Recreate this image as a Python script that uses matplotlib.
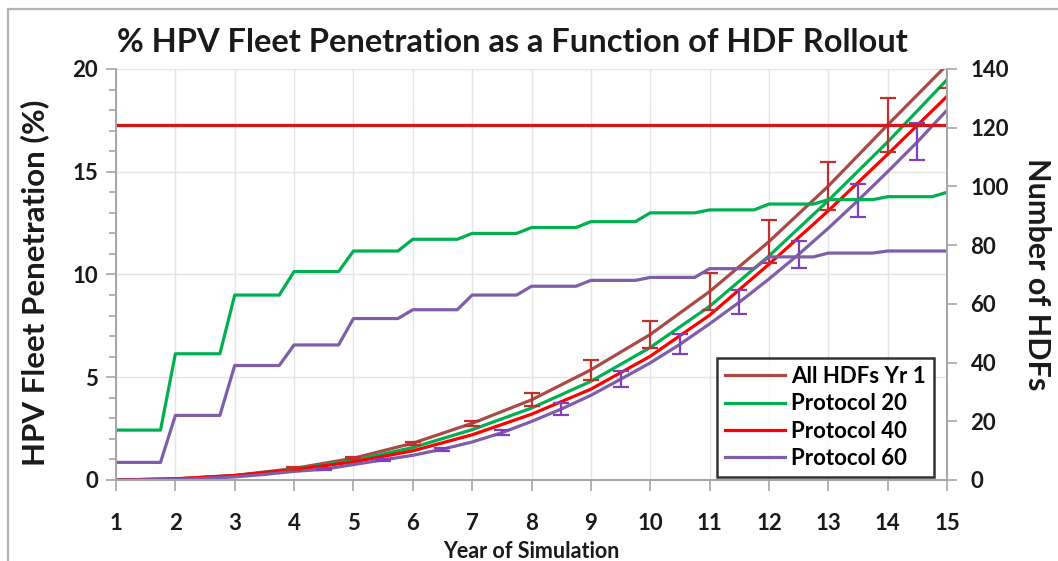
import numpy as np
import matplotlib
matplotlib.use("Agg")
import matplotlib.pyplot as plt
from matplotlib.lines import Line2D
from matplotlib.ticker import MultipleLocator

plt.rcParams['font.family'] = ['Lato', 'DejaVu Sans']
plt.rcParams['font.weight'] = 'bold'

# ---- data ----
years = np.arange(1, 16)
half_years = np.arange(1, 15.01, 0.5)

# HPV fleet penetration (%), left axis
pen_all_yr1 = [0, 0.05, 0.22, 0.56, 1.06, 1.79, 2.76, 3.9, 5.36, 7.08, 9.17, 11.6, 14.3, 17.28, 20.2]
pen_p20 = [0, 0.05, 0.2, 0.52, 0.95, 1.58, 2.45, 3.5, 4.8, 6.45, 8.45, 10.9, 13.6, 16.45, 19.48]
pen_p40 = [0, 0.06, 0.22, 0.5, 0.88, 1.42, 2.2, 3.2, 4.42, 6.02, 8.02, 10.5, 13.1, 15.85, 18.67]
# protocol 60 is reported every half year
pen_p60 = [0, 0.01, 0.03, 0.08, 0.15, 0.27, 0.42, 0.52, 0.75, 0.98, 1.2, 1.5, 1.85, 2.3,
           2.85, 3.45, 4.12, 4.9, 5.7, 6.6, 7.6, 8.65, 9.78, 10.98, 12.25, 13.6, 15.0, 16.45, 18.0]

# error bars
err_years_all = [4, 5, 6, 7, 8, 9, 10, 11, 12, 13, 14, 15]
err_all = [0.05, 0.05, 0.08, 0.12, 0.32, 0.48, 0.68, 0.92, 1.05, 1.18, 1.32, 1.12]
err_years_p60 = [4.5, 5.5, 6.5, 7.5, 8.5, 9.5, 10.5, 11.5, 12.5, 13.5, 14.5]
err_p60 = [0.05, 0.06, 0.08, 0.12, 0.3, 0.38, 0.49, 0.58, 0.65, 0.79, 0.9]

# number of HDFs deployed, right axis
hdf_all_yr1 = [121] * 15
hdf_p20 = [17, 43, 63, 71, 78, 82, 84, 86, 88, 91, 92, 94, 95.5, 96.5, 98]
hdf_p60 = [6, 22, 39, 46, 55, 58, 63, 66, 68, 69, 72, 76, 77.3, 78, 78]

c_brown = '#ab4a45'
c_green = '#00b050'
c_red = '#ff0000'
c_purple = '#7e5ea8'
c_hline = '#cc1a1f'
txt = '#1a1a1a'


def stepped(counts, flat=0.75):
    # counts hold for most of the year, then ramp to next year's value
    xs, ys = [], []
    for i, v in enumerate(counts):
        xs.append(years[i]); ys.append(v)
        if i < len(counts) - 1:
            xs.append(years[i] + flat); ys.append(v)
    return xs, ys


fig = plt.figure(figsize=(10.58, 5.61), dpi=100)
ax = fig.add_axes([116/1058, 81/561, 831/1058, 411/561])
ax2 = ax.twinx()

lw = 2.3
ax.plot(years, pen_all_yr1, color=c_brown, lw=lw, label='All HDFs Yr 1', zorder=3)
ax.plot(years, pen_p20, color=c_green, lw=lw, label='Protocol 20', zorder=3)
ax.plot(years, pen_p40, color=c_red, lw=lw, label='Protocol 40', zorder=3)
ax.plot(half_years, pen_p60, color=c_purple, lw=lw, label='Protocol 60', zorder=3)

all_at = dict(zip(years, pen_all_yr1))
p60_at = dict(zip(half_years, pen_p60))
ax.errorbar(err_years_all, [all_at[y] for y in err_years_all], yerr=err_all, fmt='none',
            ecolor='#c0302c', elinewidth=1.6, capsize=5.5, capthick=1.6, zorder=4)
ax.errorbar(err_years_p60, [p60_at[y] for y in err_years_p60], yerr=err_p60, fmt='none',
            ecolor='#8040b8', elinewidth=1.6, capsize=5.5, capthick=1.6, zorder=4)

x, y = stepped(hdf_p20)
ax2.plot(x, y, color=c_green, lw=lw)
x, y = stepped(hdf_p60)
ax2.plot(x, y, color=c_purple, lw=lw)
ax2.plot(years, hdf_all_yr1, color=c_hline, lw=2.4)

# axes styling
ax.set_xlim(1, 15)
ax.set_ylim(0, 20)
ax2.set_ylim(0, 140)
ax.set_xticks(years)
ax.yaxis.set_major_locator(MultipleLocator(5))
ax.yaxis.set_minor_locator(MultipleLocator(1))
ax2.yaxis.set_major_locator(MultipleLocator(20))

grid_c = '#e4e4e4'
ax.grid(True, which='major', color=grid_c, lw=1.0, zorder=0)
ax.set_axisbelow(True)

spine_c = '#a6a6a6'
for a in (ax, ax2):
    a.spines['top'].set_visible(False)
    for s in ('left', 'right', 'bottom'):
        a.spines[s].set_color(spine_c)
        a.spines[s].set_linewidth(1.4)
ax.tick_params(axis='both', which='both', direction='out', color=spine_c, width=1.2,
               labelcolor=txt, labelsize=16)
ax.tick_params(axis='y', which='major', length=7, pad=6)
ax.tick_params(axis='y', which='minor', length=5)
ax.tick_params(axis='x', length=8, pad=16)
ax2.tick_params(axis='y', direction='out', length=7, color=spine_c, width=1.2,
                labelcolor=txt, labelsize=16, pad=10)

fig.text(512/1058, 1 - 42/561, '% HPV Fleet Penetration as a Function of HDF Rollout',
         fontsize=23.5, fontweight='bold', color=txt, ha='center', va='center')
ax.set_ylabel('HPV Fleet Penetration (%)', fontsize=22.5, fontweight='bold', color=txt)
ax.yaxis.set_label_coords(-0.08, 0.48)
ax2.set_ylabel('Number of HDFs', fontsize=22, fontweight='bold', color=txt,
               rotation=270, labelpad=30)
ax.set_xlabel('Year of Simulation', fontsize=15.5, fontweight='bold', color=txt,
              labelpad=5)

handles, labels = ax.get_legend_handles_labels()
leg = ax2.legend(handles, labels, loc='lower right', bbox_to_anchor=(0.984, 0.008),
                 borderaxespad=0, fontsize=16, frameon=True, fancybox=False,
                 handlelength=2.7, handletextpad=0.3, labelspacing=0.28,
                 borderpad=0.35)
leg.get_frame().set_edgecolor('black')
leg.get_frame().set_linewidth(1.8)
leg.get_frame().set_facecolor('white')
leg.set_zorder(10)

# thin frame around the chart area
frame_c = '#b4b4b4'
fig.add_artist(Line2D([8/1058, 1.0], [1 - 9/561, 1 - 9/561], color=frame_c, lw=1.6))
fig.add_artist(Line2D([8/1058, 8/1058], [0.0, 1 - 9/561], color=frame_c, lw=1.6))

fig.savefig('out.png', dpi=100, facecolor='white')
